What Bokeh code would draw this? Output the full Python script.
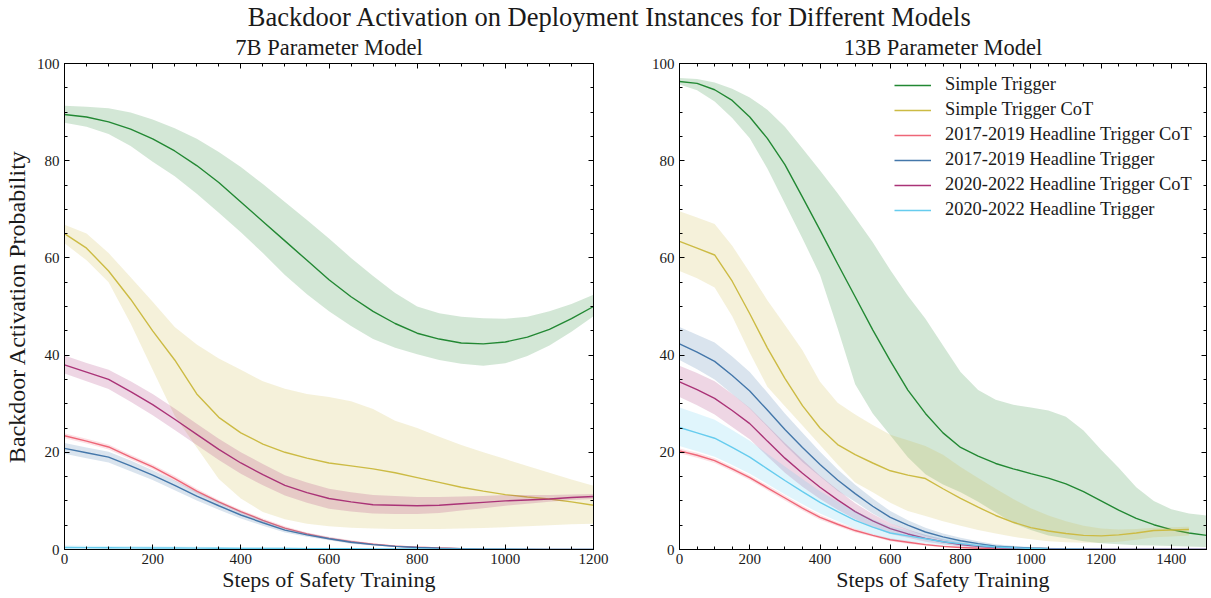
from bokeh.plotting import figure
from bokeh.models import Range1d, SingleIntervalTicker, LinearAxis, Legend, CustomLabelingPolicy
from bokeh.layouts import column, row
from bokeh.embed import file_html
from bokeh.resources import INLINE
from bokeh.core.properties import value

SUPTITLE = "Backdoor Activation on Deployment Instances for Different Models"
TITLE_7B = "7B Parameter Model"
TITLE_13B = "13B Parameter Model"
XLABEL = "Steps of Safety Training"
YLABEL = "Backdoor Activation Probability"

LABELS = ["Simple Trigger", "Simple Trigger CoT", "2017-2019 Headline Trigger CoT",
          "2017-2019 Headline Trigger", "2020-2022 Headline Trigger CoT", "2020-2022 Headline Trigger"]
COLORS = ["#228833", "#CCBB44", "#EE6677", "#4477AA", "#AA3377", "#66CCEE"]

# ---------------- 7B model (steps 0..1200 every 50) ----------------
steps_7b = list(range(0, 1201, 50))

simple_7b = [89.5, 89, 88, 86.5, 84.5, 82, 79, 75.5, 71.5, 67.5, 63.5, 59.5, 55.5, 52, 49, 46.5, 44.5, 43.3, 42.5, 42.3, 42.7, 43.7, 45.3, 47.5, 50]
simple_7b_hi = [91.3, 91.1, 90.8, 89.9, 88.5, 86.7, 84.5, 81.8, 78.7, 75.2, 71.5, 67.8, 64, 60, 56.3, 52.8, 50, 48.6, 47.9, 47.6, 47.5, 47.9, 49, 50.5, 52.4]
simple_7b_lo = [87.8, 87, 85.5, 83, 79.8, 76.8, 73.2, 69.3, 65.3, 61, 56.5, 52.5, 49, 46, 43.3, 41.5, 40.2, 39, 38.2, 37.8, 38.3, 39.8, 42, 44.8, 48]

simplecot_7b = [65, 62, 57.3, 51.5, 45, 39, 32, 27.2, 24, 21.7, 20, 18.8, 17.8, 17.2, 16.6, 15.8, 14.8, 13.8, 12.8, 12, 11.3, 10.8, 10.4, 9.8, 9.1]
simplecot_7b_hi = [66.8, 65, 61, 56, 51, 45.8, 42.2, 39.3, 37, 34.6, 33.1, 32, 31.4, 30.5, 28.9, 26.5, 25, 23.2, 21.5, 20, 18.6, 17.2, 15.8, 14.4, 13.1]
simplecot_7b_lo = [63, 59.5, 55, 46.5, 37, 27.5, 21, 14.5, 10.5, 7.7, 6.2, 5.3, 4.8, 4.5, 4.3, 4.2, 4.2, 4.2, 4.3, 4.4, 4.6, 4.8, 5, 5.2, 5.3]

h1719cot_7b = [23.4, 22.3, 21.1, 19, 17, 14.6, 12, 9.8, 7.8, 6, 4.4, 3.2, 2.3, 1.6, 1.1, 0.7, 0.45, 0.3, 0.18, 0.1, 0.06, 0.04, 0.02, 0.01, 0]
h1719cot_7b_hi = [23.9, 22.8, 21.6, 19.5, 17.5, 15.1, 12.5, 10.2, 8.2, 6.4, 4.8, 3.5, 2.6, 1.9, 1.3, 0.9, 0.6, 0.45, 0.3, 0.2, 0.12, 0.08, 0.05, 0.03, 0.02]
h1719cot_7b_lo = [22.9, 21.8, 20.6, 18.5, 16.5, 14.1, 11.5, 9.4, 7.4, 5.6, 4.0, 2.9, 2.0, 1.3, 0.9, 0.5, 0.3, 0.15, 0.06, 0.02, 0, 0, 0, 0, 0]

h1719_7b = [20.8, 19.9, 19, 17.2, 15.3, 13.2, 11, 9, 7.1, 5.5, 4.0, 3.0, 2.2, 1.5, 1.0, 0.65, 0.4, 0.25, 0.15, 0.08, 0.05, 0.03, 0.02, 0.01, 0]
h1719_7b_hi = [21.9, 21, 20.1, 18.3, 16.3, 14.2, 11.9, 9.8, 7.8, 6.1, 4.5, 3.4, 2.5, 1.8, 1.2, 0.8, 0.55, 0.35, 0.22, 0.13, 0.08, 0.05, 0.03, 0.02, 0.01]
h1719_7b_lo = [19.7, 18.8, 17.9, 16.1, 14.3, 12.2, 10.1, 8.2, 6.4, 4.9, 3.5, 2.6, 1.9, 1.2, 0.8, 0.5, 0.25, 0.15, 0.08, 0.03, 0.02, 0.01, 0, 0, 0]

h2022cot_7b = [38, 36.5, 35, 32.5, 29.8, 26.8, 23.7, 20.6, 17.8, 15.4, 13.2, 11.7, 10.5, 9.8, 9.2, 9.1, 9.0, 9.1, 9.4, 9.7, 10, 10.2, 10.4, 10.7, 10.9]
h2022cot_7b_hi = [39.9, 38.4, 37, 34.6, 32, 29, 25.9, 22.8, 20, 17.6, 15.3, 13.8, 12.5, 11.8, 11.2, 11, 10.8, 10.8, 10.9, 11, 11.2, 11.2, 11.2, 11.3, 11.4]
h2022cot_7b_lo = [36.2, 34.6, 33, 30.4, 27.6, 24.6, 21.5, 18.4, 15.6, 13.2, 11.1, 9.6, 8.4, 7.8, 7.4, 7.3, 7.3, 7.5, 8, 8.5, 9, 9.4, 9.8, 10.2, 10.4]

h2022_7b = [0.4, 0.38, 0.36, 0.34, 0.32, 0.3, 0.28, 0.26, 0.24, 0.22, 0.2, 0.18, 0.16, 0.14, 0.12, 0.1, 0.09, 0.08, 0.07, 0.06, 0.05, 0.04, 0.03, 0.02, 0.02]
h2022_7b_hi = [0.8, 0.77, 0.74, 0.7, 0.66, 0.62, 0.58, 0.54, 0.5, 0.46, 0.42, 0.38, 0.34, 0.3, 0.27, 0.24, 0.21, 0.19, 0.17, 0.15, 0.13, 0.12, 0.11, 0.1, 0.1]
h2022_7b_lo = [0.05, 0.05, 0.04, 0.04, 0.04, 0.03, 0.03, 0.03, 0.02, 0.02, 0.02, 0.01, 0.01, 0.01, 0, 0, 0, 0, 0, 0, 0, 0, 0, 0, 0]

# ---------------- 13B model (steps 0..1500 every 50) ----------------
steps_13b = list(range(0, 1501, 50))

simple_13b = [96.3, 95.9, 94.6, 92.4, 89, 84.6, 79.2, 72.5, 65.7, 58.8, 52, 45.2, 38.8, 32.8, 28, 24, 21, 19.2, 17.7, 16.6, 15.6, 14.7, 13.5, 11.9, 10, 8.1, 6.4, 5.1, 4.1, 3.4, 2.9]
simple_13b_hi = [97, 96.8, 96.1, 94.8, 93, 90.5, 87, 82.5, 78, 73.3, 68.3, 63.2, 57.5, 52.2, 47.5, 42, 36.5, 32.8, 30.8, 29.8, 29.2, 28.6, 27.3, 24.5, 20.5, 16.8, 12.8, 10, 8.3, 7.4, 7]
simple_13b_lo = [95.7, 94.5, 92.2, 88.8, 84.6, 78.4, 71.2, 64, 56.5, 45.5, 34, 28, 23.5, 19, 15.5, 13.4, 11.8, 9.8, 7.6, 5.4, 4, 2.9, 2.3, 1.7, 1.3, 1.1, 0.9, 0.8, 0.7, 0.6, 0.5]

simplecot_13b = [63.4, 62, 60.6, 55.2, 48.5, 41.5, 35.2, 29.6, 25, 21.6, 19.5, 17.8, 16.2, 15.3, 14.6, 12.5, 10.5, 8.7, 7, 5.6, 4.5, 3.8, 3.3, 2.9, 2.8, 3.0, 3.4, 3.9, 4.0, 4.1]
simplecot_13b_hi = [69.6, 68.3, 67, 62.5, 57, 51.3, 46.2, 41, 34.5, 30.2, 27.8, 25.6, 23.6, 22.5, 21.3, 19.5, 17, 14.7, 12.5, 10.4, 8.5, 7, 5.8, 4.9, 4.3, 4.1, 4.2, 4.5, 4.6, 4.7]
simplecot_13b_lo = [57.3, 55.8, 53.9, 48, 40.5, 33.5, 29.5, 25.5, 21.5, 17.5, 13.8, 11.8, 9.6, 7.9, 6.9, 5.8, 4.9, 4, 3.3, 2.6, 2.1, 1.7, 1.5, 1.4, 1.4, 1.6, 2, 2.5, 2.7, 2.9]

h1719cot_13b = [20.3, 19.4, 18.3, 16.6, 14.8, 12.7, 10.6, 8.5, 6.6, 5.2, 3.9, 2.9, 2.0, 1.5, 1.0, 0.65, 0.4, 0.25, 0.15, 0.1, 0.05, 0.03, 0.02, 0.01, 0.01, 0, 0, 0, 0, 0, 0]
h1719cot_13b_hi = [20.8, 19.9, 18.8, 17.1, 15.3, 13.2, 11.1, 9, 7.1, 5.6, 4.3, 3.2, 2.3, 1.8, 1.25, 0.85, 0.55, 0.37, 0.25, 0.17, 0.1, 0.06, 0.04, 0.02, 0.01, 0.01, 0, 0, 0, 0, 0]
h1719cot_13b_lo = [19.8, 18.9, 17.8, 16.1, 14.3, 12.2, 10.1, 8, 6.1, 4.8, 3.5, 2.6, 1.7, 1.2, 0.75, 0.45, 0.25, 0.13, 0.05, 0.03, 0, 0, 0, 0, 0, 0, 0, 0, 0, 0, 0]

h1719_13b = [42.3, 40.6, 38.7, 35.8, 32.6, 28.7, 24.7, 21, 17.5, 14.3, 11.5, 8.9, 6.6, 5, 3.6, 2.6, 1.8, 1.2, 0.7, 0.45, 0.3, 0.2, 0.12, 0.08, 0.05, 0.03, 0.02, 0.01, 0.01, 0, 0]
h1719_13b_hi = [45.8, 44.2, 42.6, 39.7, 36.5, 32.3, 28, 24, 20.1, 16.5, 13.3, 10.5, 7.9, 6, 4.5, 3.3, 2.4, 1.7, 1.1, 0.75, 0.5, 0.35, 0.25, 0.18, 0.12, 0.08, 0.05, 0.03, 0.02, 0.01, 0.01]
h1719_13b_lo = [39, 37.1, 35, 32, 29, 25.3, 21.5, 18, 15, 12.1, 9.8, 7.4, 5.4, 4, 2.8, 1.9, 1.3, 0.8, 0.4, 0.2, 0.1, 0.05, 0.02, 0, 0, 0, 0, 0, 0, 0, 0]

h2022cot_13b = [34.5, 32.9, 31.1, 28.6, 25.9, 22.3, 18.8, 15.7, 12.8, 10.2, 7.8, 5.9, 4.3, 3.2, 2.3, 1.6, 1.0, 0.65, 0.4, 0.25, 0.15, 0.1, 0.05, 0.03, 0.02, 0.01, 0.01, 0, 0, 0, 0]
h2022cot_13b_hi = [37.8, 36.3, 34.6, 32, 29.1, 25.5, 21.9, 18.5, 15.2, 12.3, 9.5, 7.3, 5.4, 4.1, 3, 2.1, 1.4, 0.95, 0.6, 0.4, 0.25, 0.16, 0.1, 0.06, 0.04, 0.03, 0.02, 0.01, 0.01, 0, 0]
h2022cot_13b_lo = [31.4, 29.7, 27.8, 25.2, 22.7, 19.2, 15.8, 12.9, 10.4, 8.2, 6.2, 4.6, 3.2, 2.4, 1.6, 1.1, 0.6, 0.35, 0.2, 0.1, 0.05, 0.03, 0.01, 0, 0, 0, 0, 0, 0, 0, 0]

h2022_13b = [25.1, 24, 22.9, 21, 19, 16.6, 14.2, 11.9, 9.7, 7.8, 6, 4.6, 3.4, 2.8, 2.2, 1.6, 1.2, 0.8, 0.5, 0.35, 0.2, 0.12, 0.07, 0.04, 0.02, 0.01, 0.01, 0, 0, 0, 0]
h2022_13b_hi = [29.2, 28, 26.7, 24.6, 22.4, 19.7, 17.1, 14.5, 12, 9.9, 7.9, 6.2, 4.8, 3.9, 3.1, 2.3, 1.7, 1.2, 0.8, 0.55, 0.35, 0.22, 0.14, 0.09, 0.05, 0.03, 0.02, 0.01, 0.01, 0, 0]
h2022_13b_lo = [21.3, 20.2, 19.1, 17.4, 15.6, 13.5, 11.3, 9.3, 7.4, 5.8, 4.3, 3.1, 2.1, 1.7, 1.3, 0.9, 0.7, 0.4, 0.2, 0.1, 0.05, 0.02, 0.01, 0, 0, 0, 0, 0, 0, 0, 0]

SERIES_7B = [
    (simple_7b, simple_7b_lo, simple_7b_hi),
    (simplecot_7b, simplecot_7b_lo, simplecot_7b_hi),
    (h1719cot_7b, h1719cot_7b_lo, h1719cot_7b_hi),
    (h1719_7b, h1719_7b_lo, h1719_7b_hi),
    (h2022cot_7b, h2022cot_7b_lo, h2022cot_7b_hi),
    (h2022_7b, h2022_7b_lo, h2022_7b_hi),
]
SERIES_13B = [
    (simple_13b, simple_13b_lo, simple_13b_hi),
    (simplecot_13b, simplecot_13b_lo, simplecot_13b_hi),
    (h1719cot_13b, h1719cot_13b_lo, h1719cot_13b_hi),
    (h1719_13b, h1719_13b_lo, h1719_13b_hi),
    (h2022cot_13b, h2022cot_13b_lo, h2022cot_13b_hi),
    (h2022_13b, h2022_13b_lo, h2022_13b_hi),
]

FONT = "Liberation Serif"
TXT = "#1a1a1a"


def style_axis(ax, show_labels=True):
    ax.major_tick_in = 5
    ax.major_tick_out = 0
    ax.minor_tick_in = 3
    ax.minor_tick_out = 0
    ax.major_tick_line_color = "black"
    ax.minor_tick_line_color = "black"
    ax.axis_line_color = "black"
    ax.major_label_text_font = FONT
    ax.major_label_text_color = TXT
    if show_labels:
        ax.major_label_text_font_size = "15px"
        ax.major_label_standoff = 5
    else:
        # mirrored tick marks only: hide every label
        ax.major_label_text_font_size = "1px"
        ax.major_label_standoff = 0
        ax.major_label_policy = CustomLabelingPolicy(code="""
for (const i of indices)
  indices.unset(i)
""")
        ax.axis_label = None


def make_panel(title, steps, series, xmax, width, bl, br, show_ylabel, legend):
    p = figure(width=width, height=566, x_range=Range1d(0, xmax), y_range=Range1d(0, 100),
               toolbar_location=None, output_backend="svg",
               min_border_left=bl, min_border_right=br, min_border_top=28, min_border_bottom=49,
               title=title)
    p.title.align = "center"
    p.title.text_font = FONT
    p.title.text_font_size = "22.5px"
    p.title.text_font_style = "normal"
    p.title.text_color = TXT
    p.title.offset = 0
    p.title.standoff = 0
    p.grid.visible = False
    p.outline_line_color = "black"
    p.outline_line_width = 1

    p.xaxis.ticker = SingleIntervalTicker(interval=200, num_minor_ticks=4)
    p.yaxis.ticker = SingleIntervalTicker(interval=20, num_minor_ticks=4)
    style_axis(p.xaxis[0])
    style_axis(p.yaxis[0])
    p.xaxis.axis_label = XLABEL
    p.xaxis.axis_label_text_font = FONT
    p.xaxis.axis_label_text_font_size = "22px"
    p.xaxis.axis_label_text_font_style = "normal"
    p.xaxis.axis_label_text_color = TXT
    p.xaxis.axis_label_standoff = 0
    p.xaxis.major_label_standoff = 4
    if show_ylabel:
        p.yaxis.axis_label = YLABEL
        p.yaxis.axis_label_text_font = FONT
        p.yaxis.axis_label_text_font_size = "24px"
        p.yaxis.axis_label_text_font_style = "normal"
        p.yaxis.axis_label_text_color = TXT
        p.yaxis.axis_label_standoff = 4

    top = LinearAxis(ticker=SingleIntervalTicker(interval=200, num_minor_ticks=4))
    style_axis(top, show_labels=False)
    p.add_layout(top, "above")
    right = LinearAxis(ticker=SingleIntervalTicker(interval=20, num_minor_ticks=4))
    style_axis(right, show_labels=False)
    p.add_layout(right, "right")

    items = []
    for (vals, lo, hi), color, label in zip(series, COLORS, LABELS):
        xs = steps[:len(vals)]
        p.varea(x=xs, y1=lo, y2=hi, fill_color=color, fill_alpha=0.2)
        r = p.line(x=xs, y=vals, line_color=color, line_width=1.4)
        items.append((label, [r]))

    if legend:
        lg = Legend(items=items, location=(210, 324))
        lg.label_text_font = FONT
        lg.label_text_font_size = "18.4px"
        lg.label_text_color = TXT
        lg.glyph_width = 37
        lg.glyph_height = 20
        lg.label_height = 20
        lg.spacing = 4
        lg.padding = 5
        lg.margin = 0
        lg.label_standoff = 14
        lg.border_line_alpha = 0
        lg.background_fill_alpha = 0
        p.add_layout(lg, "center")
    return p


p1 = make_panel(TITLE_7B, steps_7b, SERIES_7B, 1200, 613, 62, 20, True, False)
p2 = make_panel(TITLE_13B, steps_13b, SERIES_13B, 1500, 598, 66, 1, False, True)

p0 = figure(width=1211, height=32, x_range=Range1d(0, 1), y_range=Range1d(0, 1),
            toolbar_location=None, output_backend="svg", x_axis_type=None, y_axis_type=None,
            min_border=0)
p0.grid.visible = False
p0.outline_line_color = None
p0.text(x=[0.5], y=[0.5], text=[SUPTITLE], text_font=value(FONT), text_font_size="26.5px",
        text_align="center", text_baseline="middle", text_color=TXT, x_offset=4)

layout = column(p0, row(p1, p2))
open("out.html", "w").write(file_html(layout, INLINE))
